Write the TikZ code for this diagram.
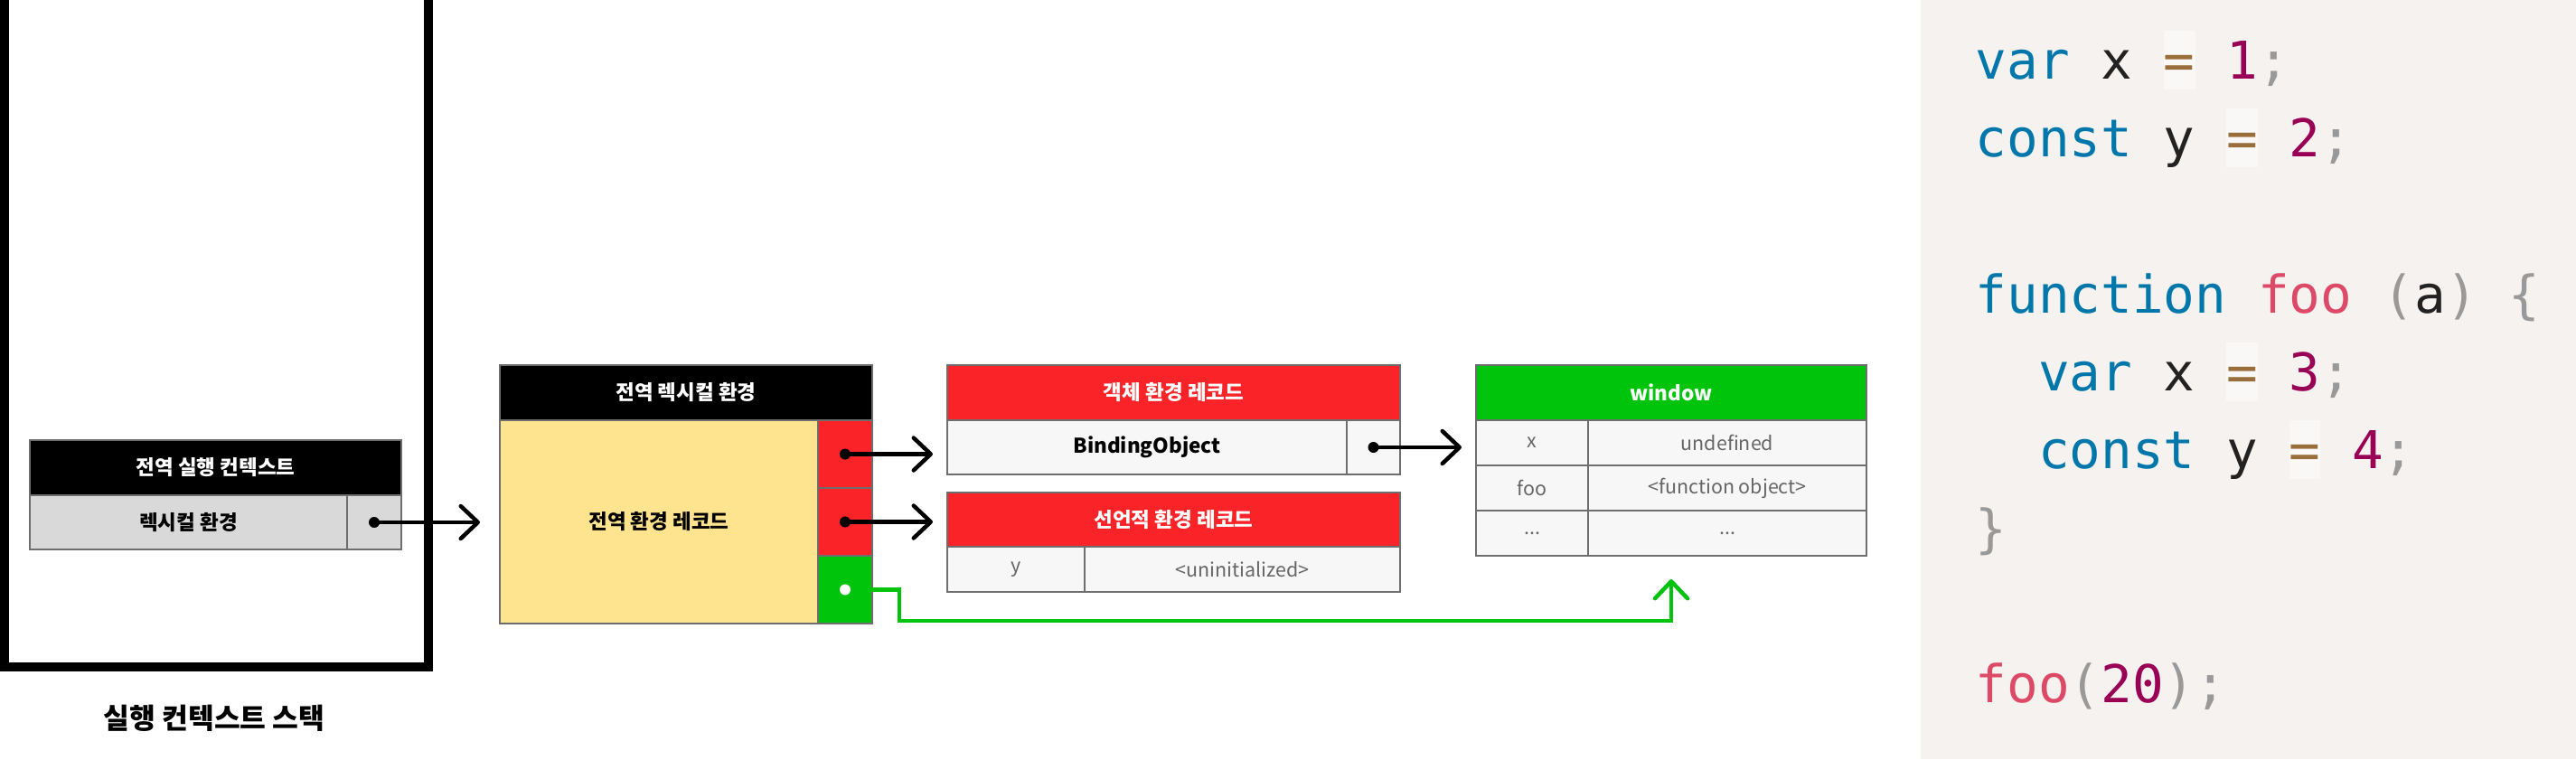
\documentclass[tikz,border=0pt]{standalone}
\usepackage{fontspec}
\usepackage{tikz}
\usetikzlibrary{arrows.meta, positioning, calc}
\newfontfamily\krfont{Noto Sans CJK KR}
\setmonofont{DejaVu Sans Mono}
\definecolor{recred}{HTML}{FA2328}
\definecolor{glbgreen}{HTML}{00C30C}
\definecolor{envyellow}{HTML}{FFE48F}
\definecolor{rowgray}{HTML}{D9D9D9}
\definecolor{rowlight}{HTML}{F7F7F7}
\definecolor{edgegray}{HTML}{6E6E6E}
\definecolor{celltext}{HTML}{666666}
\definecolor{codebg}{HTML}{F5F2F0}
\definecolor{jskeyword}{HTML}{0077AA}
\definecolor{jsfunc}{HTML}{DD4A68}
\definecolor{jsnumber}{HTML}{990055}
\definecolor{jsoper}{HTML}{9A6E3A}
\definecolor{jsopbg}{HTML}{FAF8F7}
\definecolor{jspunct}{HTML}{999999}
\definecolor{jsplain}{HTML}{222222}
\newcommand{\jskw}[1]{\textcolor{jskeyword}{#1}}
\newcommand{\jsfn}[1]{\textcolor{jsfunc}{#1}}
\newcommand{\jsnum}[1]{\textcolor{jsnumber}{#1}}
\newcommand{\jspun}[1]{\textcolor{jspunct}{#1}}
\newcommand{\jsop}[1]{{\setlength{\fboxsep}{0pt}\colorbox{jsopbg}{\rule[-0.2em]{0pt}{1.12em}\textcolor{jsoper}{#1}}}}

\begin{document}
\begin{tikzpicture}[
    hdr/.style={
        rectangle, draw=edgegray, line width=0.6pt, inner sep=0pt, outer sep=0pt,
        minimum height=0.61cm, text=white,
        font=\krfont\bfseries\fontsize{6.4}{7.5}\selectfont
    },
    cell/.style={
        rectangle, draw=edgegray, line width=0.6pt, fill=rowlight,
        inner sep=0pt, outer sep=0pt, text=celltext,
        font=\krfont\fontsize{6.1}{7}\selectfont
    },
    boldcell/.style={cell, text=black, font=\krfont\bfseries\fontsize{6.4}{7.5}\selectfont},
    dot/.style={circle, fill=black, inner sep=0pt, minimum size=0.12cm},
    ptr/.style={-{Straight Barb[length=1.9mm, width=3.6mm, round]},
        line width=0.045cm, line cap=round},
    gptr/.style={ptr, color=glbgreen, line join=miter},
    codeline/.style={anchor=base west, inner sep=0pt, text=jsplain,
        font=\ttfamily\fontsize{16.4}{24.5}\selectfont},
]
\useasboundingbox (0,0) rectangle (28.5,-8.4);

%% ============ EXECUTION CONTEXT STACK ============
\draw[line width=0.1cm] (0.05,0.2) -- (0.05,-7.38) -- (4.74,-7.38) -- (4.74,0.2);
\node[font=\krfont\bfseries\fontsize{8.9}{10}\selectfont] (stacklbl) at (2.37,-7.95) {실행 컨텍스트 스택};

\node[hdr, fill=black, minimum width=4.11cm, anchor=north west] (ctxhdr) at (0.33,-4.87) {전역 실행 컨텍스트};
\node[boldcell, fill=rowgray, minimum width=3.51cm, minimum height=0.60cm,
      below right=0pt of ctxhdr.south west] (ctxlex) {렉시컬 환경};
\node[cell, fill=rowgray, minimum width=0.60cm, minimum height=0.60cm, right=0pt of ctxlex] (ctxptr) {};

%% ============ GLOBAL LEXICAL ENVIRONMENT ============
\node[hdr, fill=black, minimum width=4.12cm, anchor=north west] (lexhdr) at (5.53,-4.04) {전역 렉시컬 환경};
\node[boldcell, fill=envyellow, minimum width=3.52cm, minimum height=2.25cm,
      below right=0pt of lexhdr.south west] (lexrec) {전역 환경 레코드};
\node[cell, fill=recred, minimum width=0.60cm, minimum height=0.75cm,
      below left=0pt of lexhdr.south east] (lexobj) {};
\node[cell, fill=recred, minimum width=0.60cm, minimum height=0.75cm, below=0pt of lexobj] (lexdecl) {};
\node[cell, fill=glbgreen, minimum width=0.60cm, minimum height=0.75cm, below=0pt of lexdecl] (lexthis) {};

%% ============ OBJECT / DECLARATIVE RECORDS ============
\node[hdr, fill=recred, minimum width=5.01cm, anchor=north west] (objhdr) at (10.48,-4.04) {객체 환경 레코드};
\node[boldcell, minimum width=4.42cm, minimum height=0.60cm,
      below right=0pt of objhdr.south west] (objbind) {BindingObject};
\node[cell, minimum width=0.59cm, minimum height=0.60cm, right=0pt of objbind] (objptr) {};

\node[hdr, fill=recred, minimum width=5.01cm, minimum height=0.60cm, anchor=north west] (declhdr) at (10.48,-5.45) {선언적 환경 레코드};
\node[cell, minimum width=1.52cm, minimum height=0.50cm, below right=0pt of declhdr.south west] (declkey) {y};
\node[cell, minimum width=3.49cm, minimum height=0.50cm, right=0pt of declkey] (declval) {<uninitialized>};

%% ============ GLOBAL OBJECT ============
\node[hdr, fill=glbgreen, minimum width=4.32cm, anchor=north west] (winhdr) at (16.33,-4.04) {window};
\node[cell, minimum width=1.24cm, minimum height=0.50cm, below right=0pt of winhdr.south west] (winkey1) {x};
\node[cell, minimum width=3.08cm, minimum height=0.50cm, right=0pt of winkey1] (winval1) {undefined};
\node[cell, minimum width=1.24cm, minimum height=0.50cm, below=0pt of winkey1] (winkey2) {foo};
\node[cell, minimum width=3.08cm, minimum height=0.50cm, below=0pt of winval1] (winval2) {<function object>};
\node[cell, minimum width=1.24cm, minimum height=0.50cm, below=0pt of winkey2] (winkey3) {...};
\node[cell, minimum width=3.08cm, minimum height=0.50cm, below=0pt of winval2] (winval3) {...};

%% ============ POINTERS ============
\draw[ptr, shorten >=0.22cm] (ctxptr.center) -- (ctxptr.center -| lexhdr.west);
\draw[ptr, shorten >=0.16cm] (lexobj.center) -- (lexobj.center -| objhdr.west);
\draw[ptr, shorten >=0.16cm] (lexdecl.center) -- (lexdecl.center -| declhdr.west);
\draw[ptr, shorten >=0.16cm] (objptr.center) -- (objptr.center -| winhdr.west);

% this binding -> window (runs under the records)
\coordinate (thisbend) at (9.95,-6.87);
\draw[gptr, shorten >=0.26cm] (lexthis.center) -| (thisbend) -| (winhdr.center |- winval3.south);

\node[dot] (ctxdot) at (ctxptr.center) {};
\node[dot] (objdot) at (lexobj.center) {};
\node[dot] (decldot) at (lexdecl.center) {};
\node[dot] (binddot) at (objptr.center) {};
\node[dot, fill=white] (thisdot) at (lexthis.center) {};

%% ============ SOURCE CODE ============
\node[fill=codebg, inner sep=0pt, outer sep=0pt, minimum width=7.25cm, minimum height=8.4cm,
      anchor=north west] (codepanel) at (21.25,0) {};
\node[codeline] (code1) at (21.85,-0.87) {\jskw{var} x \jsop{=} \jsnum{1}\jspun{;}};
\node[codeline] (code2) at (21.85,-1.73) {\jskw{const} y \jsop{=} \jsnum{2}\jspun{;}};
\node[codeline] (code4) at (21.85,-3.46) {\jskw{function} \jsfn{foo} \jspun{(}a\jspun{)} \jspun{\{}};
\node[codeline] (code5) at (21.85,-4.32) {\hphantom{xx}\jskw{var} x \jsop{=} \jsnum{3}\jspun{;}};
\node[codeline] (code6) at (21.85,-5.18) {\hphantom{xx}\jskw{const} y \jsop{=} \jsnum{4}\jspun{;}};
\node[codeline] (code7) at (21.85,-6.05) {\jspun{\}}};
\node[codeline] (code9) at (21.85,-7.77) {\jsfn{foo}\jspun{(}\jsnum{20}\jspun{)}\jspun{;}};

\end{tikzpicture}
\end{document}
